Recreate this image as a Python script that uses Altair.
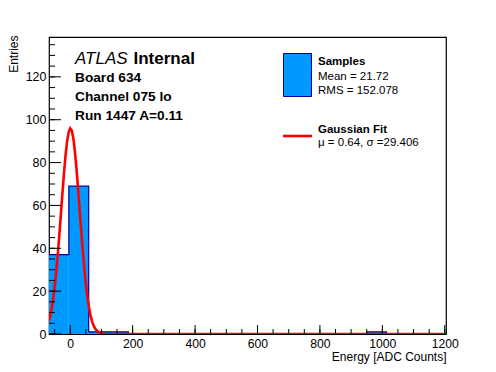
import altair as alt
import pandas as pd

# Histogram (bin edges and counts)
bin_edges = [-68.0, -4.4, 59.2, 122.8, 186.4, 250.0, 313.6, 377.2, 440.8, 504.4, 568.0,
             631.6, 695.2, 758.8, 822.4, 886.0, 949.6, 1013.2, 1076.8, 1140.4, 1204.0]
counts = [37, 69, 1, 1, 0, 0, 0, 0, 0, 0, 0, 0, 0, 0, 0, 0, 1, 0, 0, 0]

# Gaussian fit curve
fit_x = [-68, -65, -60, -55, -50, -45, -40, -35, -30, -25, -20, -15, -10, -5, 0, 5, 10, 15,
         20, 25, 30, 35, 40, 45, 50, 55, 60, 65, 70, 75, 80, 90, 100, 110, 120, 1204]
fit_y = [6.2, 7.9, 11.4, 16.0, 21.8, 28.8, 36.9, 46.0, 55.8, 65.6, 75.0, 83.3, 89.9, 94.2, 96.0,
         95.0, 91.3, 85.2, 77.3, 68.1, 58.3, 48.5, 39.2, 30.8, 23.4, 17.4, 12.5, 8.7, 5.9, 3.9,
         2.5, 0.95, 0.32, 0.1, 0.0, 0.0]

y_major = [0, 20, 40, 60, 80, 100, 120]
y_minor = [5 * i for i in range(28)]
x_major = [0, 200, 400, 600, 800, 1000, 1200]
x_minor = [-50 + 50 * i for i in range(26)]

XDOM = [-68, 1204]
YDOM = [0, 138.6]
W, H = 397, 297
FONT = "Liberation Sans"
FILL = "#0099ff"
LINE = "#000099"

xs = alt.Scale(domain=XDOM, nice=False, zero=False)
ys = alt.Scale(domain=YDOM, nice=False, zero=False)

bars = pd.DataFrame({"x0": bin_edges[:-1], "x1": bin_edges[1:], "n": counts})
bars_nz = bars[bars["n"] > 0]
outline = pd.DataFrame({"x": bin_edges, "n": counts + [counts[-1]]})
fit = pd.DataFrame({"x": fit_x, "y": fit_y})

xaxis = alt.Axis(values=x_major, format="d", ticks=False, domain=False, grid=False,
                 labelFont=FONT, labelFontSize=12.2, labelPadding=3.5, labelColor="black",
                 title="Energy [ADC Counts]", titleFont=FONT, titleFontSize=12,
                 titleFontWeight="normal", titleAnchor="end", titleAlign="right",
                 titleX=W, titleY=26, titleBaseline="alphabetic", titleColor="black")
yaxis = alt.Axis(values=y_major, ticks=False, domain=False, grid=False, labelFont=FONT,
                 labelFontSize=12.5, labelPadding=3, labelColor="black",
                 title="Entries", titleFont=FONT, titleFontSize=12, titleFontWeight="normal",
                 titleAngle=-90, titleAlign="right", titleX=-36, titleY=-2,
                 titleBaseline="middle", titleColor="black")

hist = alt.Chart(bars_nz).mark_rect(color=FILL).encode(
    x=alt.X("x0:Q", scale=xs, axis=xaxis),
    x2="x1:Q",
    y=alt.Y("n:Q", scale=ys, axis=yaxis),
    y2=alt.datum(0),
)
hist_line = alt.Chart(outline).mark_line(color=LINE, strokeWidth=1.2, interpolate="step-after",
                                         clip=True).encode(
    x=alt.X("x:Q", scale=xs), y=alt.Y("n:Q", scale=ys))
fit_line = alt.Chart(fit).mark_line(color="#ff0000", strokeWidth=2.6, clip=True).encode(
    x=alt.X("x:Q", scale=xs), y=alt.Y("y:Q", scale=ys))

ymaj = alt.Chart(pd.DataFrame({"v": y_major})).mark_rule(color="black").encode(
    y=alt.Y("v:Q", scale=ys), x=alt.value(0), x2=alt.value(12))
ymin = alt.Chart(pd.DataFrame({"v": y_minor})).mark_rule(color="black").encode(
    y=alt.Y("v:Q", scale=ys), x=alt.value(0), x2=alt.value(6))
xmaj = alt.Chart(pd.DataFrame({"v": x_major})).mark_rule(color="black").encode(
    x=alt.X("v:Q", scale=xs), y=alt.value(H), y2=alt.value(H - 9))
xmin = alt.Chart(pd.DataFrame({"v": x_minor})).mark_rule(color="black").encode(
    x=alt.X("v:Q", scale=xs), y=alt.value(H), y2=alt.value(H - 5))

one = pd.DataFrame({"a": [0]})


def txt(s, x, y, size, weight="normal", style="normal"):
    return alt.Chart(one).mark_text(text=s, font=FONT, fontSize=size, fontWeight=weight,
                                    fontStyle=style, align="left", baseline="alphabetic",
                                    color="black").encode(x=alt.value(x), y=alt.value(y))


labels = [
    txt("ATLAS", 26, 26.5, 17, style="italic"),
    txt("Internal", 84.5, 26.5, 17, weight="bold"),
    txt("Board 634", 26, 45, 13.7, weight="bold"),
    txt("Channel 075 lo", 26, 64, 13.7, weight="bold"),
    txt("Run 1447 A=0.11", 26, 82.5, 13.7, weight="bold"),
    txt("Samples", 269, 28, 11.5, weight="bold"),
    txt("Mean = 21.72", 269, 43, 11.5),
    txt("RMS = 152.078", 269, 56.5, 11.5),
    txt("Gaussian Fit", 269, 95.5, 11.5, weight="bold"),
    txt("\u03bc = 0.64, \u03c3 =29.406", 269, 108.5, 11.5),
]

leg_box = alt.Chart(one).mark_rect(fill=FILL, stroke=LINE, strokeWidth=1).encode(
    x=alt.value(234.5), x2=alt.value(262.5), y=alt.value(16.5), y2=alt.value(59.5))
leg_line = alt.Chart(one).mark_rule(color="#ff0000", strokeWidth=2.6).encode(
    x=alt.value(234), x2=alt.value(263), y=alt.value(99))

chart = alt.layer(hist, hist_line, fit_line, ymaj, ymin, xmaj, xmin, leg_box, leg_line,
                  *labels).properties(
    width=W, height=H,
    autosize=alt.AutoSizeParams(type="none"),
    padding={"left": 41, "top": 29, "right": 40, "bottom": 30},
    background="white",
).configure_view(stroke="black", strokeWidth=1.2)

chart.save("out.html", embed_options={"renderer": "svg", "actions": False})
